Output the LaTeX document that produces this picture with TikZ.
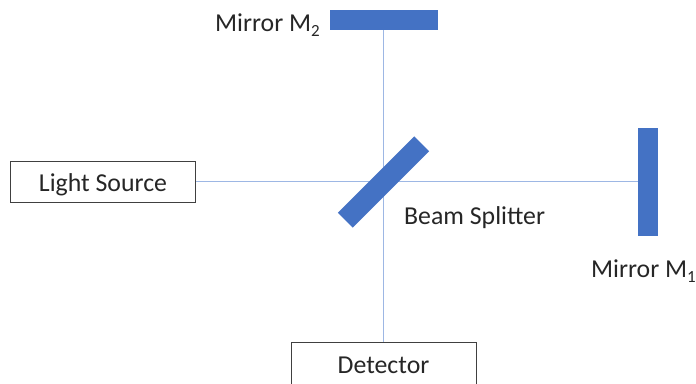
\documentclass[tikz,border=0pt]{standalone}
\usepackage{fontspec}
\setmainfont{Carlito}
\definecolor{barblue}{HTML}{4472C4}
\definecolor{beam}{HTML}{9DB7E4}
\newcommand{\lowsub}[1]{\raisebox{-0.22em}{\fontsize{17}{20}\selectfont #1}}
\tikzset{
  px/.style={x=1pt,y=-1pt},
  mirror/.style={fill=barblue,draw=none,inner sep=0pt,minimum width=#1},
  box/.style={draw=black!75,line width=1pt,fill=white,inner sep=0pt},
  lbl/.style={inner sep=0pt,font=\fontsize{25.8}{30}\selectfont,text=black!85},
  ray/.style={draw=beam,line width=1pt}
}
\begin{document}
\begin{tikzpicture}[px]
\useasboundingbox (0,0) rectangle (696,383);
\clip (0,0) rectangle (696,383);
\node[box,minimum width=185pt,minimum height=41pt] (src) at (103,181.5) {};
\node[box,minimum width=185pt,minimum height=50pt] (det) at (383.5,367.5) {};
\coordinate (c) at (383.5,181.5);
\coordinate (m2end) at (383.5,30);
\coordinate (m1end) at (638,181.5);
\draw[ray] (src.east) -- (c);
\draw[ray] (c) -- (m1end);
\draw[ray] (m2end) -- (det.north);
\node[mirror=108pt,minimum height=20pt] (m2) at (383.5,20) {};
\node[mirror=20pt,minimum height=108pt] (m1) at (648,181.5) {};
\node[mirror=21pt,minimum height=108pt,rotate=-45] (bs) at (383.5,182) {};
\node[lbl,anchor=base] (t1) at (103,191) {Light Source};
\node[lbl,anchor=base] (t2) at (383.5,373) {Detector};
\node[lbl,anchor=base east] (t3) at (320,31) {Mirror M\lowsub{2}};
\node[lbl,anchor=base east] (t4) at (696,277) {Mirror M\lowsub{1}};
\node[lbl,anchor=base west] (t5) at (404,224) {Beam Splitter};
\end{tikzpicture}
\end{document}
